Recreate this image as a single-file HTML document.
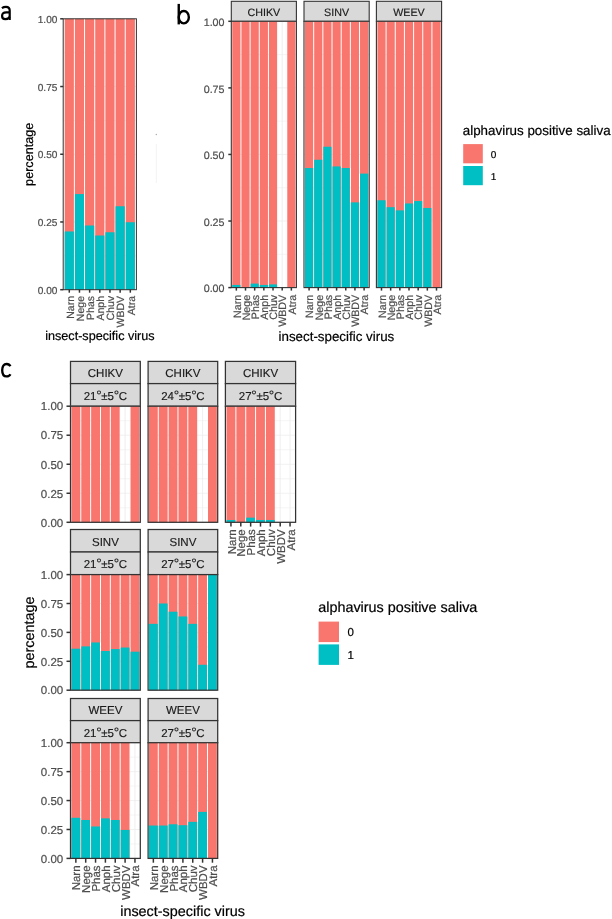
<!DOCTYPE html>
<html><head><meta charset="utf-8"><style>
html,body{margin:0;padding:0;background:#fff;}
body{width:612px;height:919px;overflow:hidden;}
svg{display:block;will-change:transform;}
text{font-family:"Liberation Sans", sans-serif;text-rendering:geometricPrecision;}
</style></head><body>
<svg width="612" height="919" viewBox="0 0 612 919" font-family="Liberation Sans">
<g>
<rect width="612" height="919" fill="#fff"/>
<rect x="63.2" y="18.8" width="73.20" height="270.90" fill="#fff"/>
<line x1="63.2" x2="136.4" y1="255.84" y2="255.84" stroke="#EBEBEB" stroke-width="0.5"/>
<line x1="63.2" x2="136.4" y1="188.11" y2="188.11" stroke="#EBEBEB" stroke-width="0.5"/>
<line x1="63.2" x2="136.4" y1="120.39" y2="120.39" stroke="#EBEBEB" stroke-width="0.5"/>
<line x1="63.2" x2="136.4" y1="52.66" y2="52.66" stroke="#EBEBEB" stroke-width="0.5"/>
<line x1="63.2" x2="136.4" y1="289.70" y2="289.70" stroke="#EBEBEB" stroke-width="0.7"/>
<line x1="63.2" x2="136.4" y1="221.97" y2="221.97" stroke="#EBEBEB" stroke-width="0.7"/>
<line x1="63.2" x2="136.4" y1="154.25" y2="154.25" stroke="#EBEBEB" stroke-width="0.7"/>
<line x1="63.2" x2="136.4" y1="86.53" y2="86.53" stroke="#EBEBEB" stroke-width="0.7"/>
<line x1="63.2" x2="136.4" y1="18.80" y2="18.80" stroke="#EBEBEB" stroke-width="0.7"/>
<line x1="69.29" x2="69.29" y1="18.8" y2="289.7" stroke="#EBEBEB" stroke-width="0.8"/>
<line x1="79.46" x2="79.46" y1="18.8" y2="289.7" stroke="#EBEBEB" stroke-width="0.8"/>
<line x1="89.63" x2="89.63" y1="18.8" y2="289.7" stroke="#EBEBEB" stroke-width="0.8"/>
<line x1="99.80" x2="99.80" y1="18.8" y2="289.7" stroke="#EBEBEB" stroke-width="0.8"/>
<line x1="109.97" x2="109.97" y1="18.8" y2="289.7" stroke="#EBEBEB" stroke-width="0.8"/>
<line x1="120.14" x2="120.14" y1="18.8" y2="289.7" stroke="#EBEBEB" stroke-width="0.8"/>
<line x1="130.31" x2="130.31" y1="18.8" y2="289.7" stroke="#EBEBEB" stroke-width="0.8"/>
<rect x="64.71" y="18.8" width="9.17" height="270.90" fill="#F8766D"/>
<rect x="64.71" y="231.46" width="9.17" height="58.24" fill="#00BFC4"/>
<rect x="74.88" y="18.8" width="9.17" height="270.90" fill="#F8766D"/>
<rect x="74.88" y="194.07" width="9.17" height="95.63" fill="#00BFC4"/>
<rect x="85.05" y="18.8" width="9.17" height="270.90" fill="#F8766D"/>
<rect x="85.05" y="225.50" width="9.17" height="64.20" fill="#00BFC4"/>
<rect x="95.22" y="18.8" width="9.17" height="270.90" fill="#F8766D"/>
<rect x="95.22" y="235.52" width="9.17" height="54.18" fill="#00BFC4"/>
<rect x="105.39" y="18.8" width="9.17" height="270.90" fill="#F8766D"/>
<rect x="105.39" y="232.27" width="9.17" height="57.43" fill="#00BFC4"/>
<rect x="115.56" y="18.8" width="9.17" height="270.90" fill="#F8766D"/>
<rect x="115.56" y="206.26" width="9.17" height="83.44" fill="#00BFC4"/>
<rect x="125.73" y="18.8" width="9.17" height="270.90" fill="#F8766D"/>
<rect x="125.73" y="222.25" width="9.17" height="67.45" fill="#00BFC4"/>
<rect x="63.2" y="18.8" width="73.20" height="270.90" fill="none" stroke="#333333" stroke-width="1.0"/>
<line x1="60.20" x2="63.2" y1="18.80" y2="18.80" stroke="#333333" stroke-width="1.5"/>
<text x="57.40" y="22.97" font-size="10.10" fill="#4D4D4D" stroke="#4D4D4D" stroke-width="0.2" text-anchor="end">1.00</text>
<line x1="60.20" x2="63.2" y1="86.53" y2="86.53" stroke="#333333" stroke-width="1.5"/>
<text x="57.40" y="90.70" font-size="10.10" fill="#4D4D4D" stroke="#4D4D4D" stroke-width="0.2" text-anchor="end">0.75</text>
<line x1="60.20" x2="63.2" y1="154.25" y2="154.25" stroke="#333333" stroke-width="1.5"/>
<text x="57.40" y="158.42" font-size="10.10" fill="#4D4D4D" stroke="#4D4D4D" stroke-width="0.2" text-anchor="end">0.50</text>
<line x1="60.20" x2="63.2" y1="221.97" y2="221.97" stroke="#333333" stroke-width="1.5"/>
<text x="57.40" y="226.15" font-size="10.10" fill="#4D4D4D" stroke="#4D4D4D" stroke-width="0.2" text-anchor="end">0.25</text>
<line x1="60.20" x2="63.2" y1="289.70" y2="289.70" stroke="#333333" stroke-width="1.5"/>
<text x="57.40" y="293.87" font-size="10.10" fill="#4D4D4D" stroke="#4D4D4D" stroke-width="0.2" text-anchor="end">0.00</text>
<line x1="69.29" x2="69.29" y1="289.7" y2="292.70" stroke="#333333" stroke-width="1.5"/>
<text x="73.50" y="296.00" font-size="10.50" fill="#4D4D4D" stroke="#4D4D4D" stroke-width="0.2" text-anchor="end" transform="rotate(-90 73.50200000000001 296.0)">Narn</text>
<line x1="79.46" x2="79.46" y1="289.7" y2="292.70" stroke="#333333" stroke-width="1.5"/>
<text x="83.67" y="296.00" font-size="10.50" fill="#4D4D4D" stroke="#4D4D4D" stroke-width="0.2" text-anchor="end" transform="rotate(-90 83.672 296.0)">Nege</text>
<line x1="89.63" x2="89.63" y1="289.7" y2="292.70" stroke="#333333" stroke-width="1.5"/>
<text x="93.84" y="296.00" font-size="10.50" fill="#4D4D4D" stroke="#4D4D4D" stroke-width="0.2" text-anchor="end" transform="rotate(-90 93.842 296.0)">Phas</text>
<line x1="99.80" x2="99.80" y1="289.7" y2="292.70" stroke="#333333" stroke-width="1.5"/>
<text x="104.01" y="296.00" font-size="10.50" fill="#4D4D4D" stroke="#4D4D4D" stroke-width="0.2" text-anchor="end" transform="rotate(-90 104.012 296.0)">Anph</text>
<line x1="109.97" x2="109.97" y1="289.7" y2="292.70" stroke="#333333" stroke-width="1.5"/>
<text x="114.18" y="296.00" font-size="10.50" fill="#4D4D4D" stroke="#4D4D4D" stroke-width="0.2" text-anchor="end" transform="rotate(-90 114.182 296.0)">Chuv</text>
<line x1="120.14" x2="120.14" y1="289.7" y2="292.70" stroke="#333333" stroke-width="1.5"/>
<text x="124.35" y="296.00" font-size="10.50" fill="#4D4D4D" stroke="#4D4D4D" stroke-width="0.2" text-anchor="end" transform="rotate(-90 124.352 296.0)">WBDV</text>
<line x1="130.31" x2="130.31" y1="289.7" y2="292.70" stroke="#333333" stroke-width="1.5"/>
<text x="134.52" y="296.00" font-size="10.50" fill="#4D4D4D" stroke="#4D4D4D" stroke-width="0.2" text-anchor="end" transform="rotate(-90 134.522 296.0)">Atra</text>
<text x="99.90" y="339.70" font-size="12.64" fill="#000" stroke="#000" stroke-width="0.2" text-anchor="middle">insect-specific virus</text>
<text x="32.55" y="154.30" font-size="12.64" fill="#000" stroke="#000" stroke-width="0.2" text-anchor="middle" transform="rotate(-90 32.548159999999996 154.3)">percentage</text>
<g fill="none" stroke="#000" stroke-width="2.2" stroke-linecap="butt"><path d="M 1.9 8.1 C 3.2 7.2, 4.6 6.9, 6.0 6.9 C 8.6 6.9, 9.7 8.0, 9.7 10.5 L 9.7 20.0"/><path d="M 9.7 12.3 L 6.3 12.3 C 3.4 12.3, 2.1 13.7, 2.1 15.9 C 2.1 17.9, 3.4 19.1, 5.3 19.1 C 7.2 19.1, 8.8 18.3, 9.7 16.9"/></g>
<rect x="231.3" y="1.3" width="65.10" height="20.00" fill="#D9D9D9" stroke="#333333" stroke-width="1.1"/>
<text x="263.85" y="15.68" font-size="10.70" fill="#1A1A1A" stroke="#1A1A1A" stroke-width="0.15" text-anchor="middle">CHIKV</text>
<rect x="231.3" y="21.3" width="65.10" height="266.30" fill="#fff"/>
<line x1="231.3" x2="296.4" y1="254.31" y2="254.31" stroke="#EBEBEB" stroke-width="0.5"/>
<line x1="231.3" x2="296.4" y1="187.74" y2="187.74" stroke="#EBEBEB" stroke-width="0.5"/>
<line x1="231.3" x2="296.4" y1="121.16" y2="121.16" stroke="#EBEBEB" stroke-width="0.5"/>
<line x1="231.3" x2="296.4" y1="54.59" y2="54.59" stroke="#EBEBEB" stroke-width="0.5"/>
<line x1="231.3" x2="296.4" y1="287.60" y2="287.60" stroke="#EBEBEB" stroke-width="0.7"/>
<line x1="231.3" x2="296.4" y1="221.03" y2="221.03" stroke="#EBEBEB" stroke-width="0.7"/>
<line x1="231.3" x2="296.4" y1="154.45" y2="154.45" stroke="#EBEBEB" stroke-width="0.7"/>
<line x1="231.3" x2="296.4" y1="87.88" y2="87.88" stroke="#EBEBEB" stroke-width="0.7"/>
<line x1="231.3" x2="296.4" y1="21.30" y2="21.30" stroke="#EBEBEB" stroke-width="0.7"/>
<line x1="236.34" x2="236.34" y1="21.3" y2="287.6" stroke="#EBEBEB" stroke-width="0.8"/>
<line x1="245.51" x2="245.51" y1="21.3" y2="287.6" stroke="#EBEBEB" stroke-width="0.8"/>
<line x1="254.68" x2="254.68" y1="21.3" y2="287.6" stroke="#EBEBEB" stroke-width="0.8"/>
<line x1="263.85" x2="263.85" y1="21.3" y2="287.6" stroke="#EBEBEB" stroke-width="0.8"/>
<line x1="273.02" x2="273.02" y1="21.3" y2="287.6" stroke="#EBEBEB" stroke-width="0.8"/>
<line x1="282.19" x2="282.19" y1="21.3" y2="287.6" stroke="#EBEBEB" stroke-width="0.8"/>
<line x1="291.36" x2="291.36" y1="21.3" y2="287.6" stroke="#EBEBEB" stroke-width="0.8"/>
<rect x="232.26" y="21.3" width="8.17" height="266.30" fill="#F8766D"/>
<rect x="232.26" y="284.94" width="8.17" height="2.66" fill="#00BFC4"/>
<rect x="241.43" y="21.3" width="8.17" height="266.30" fill="#F8766D"/>
<rect x="250.60" y="21.3" width="8.17" height="266.30" fill="#F8766D"/>
<rect x="250.60" y="283.61" width="8.17" height="3.99" fill="#00BFC4"/>
<rect x="259.77" y="21.3" width="8.17" height="266.30" fill="#F8766D"/>
<rect x="259.77" y="284.94" width="8.17" height="2.66" fill="#00BFC4"/>
<rect x="268.94" y="21.3" width="8.17" height="266.30" fill="#F8766D"/>
<rect x="268.94" y="284.40" width="8.17" height="3.20" fill="#00BFC4"/>
<rect x="287.28" y="21.3" width="8.17" height="266.30" fill="#F8766D"/>
<rect x="231.3" y="21.3" width="65.10" height="266.30" fill="none" stroke="#333333" stroke-width="1.1"/>
<line x1="236.34" x2="236.34" y1="287.6" y2="290.60" stroke="#333333" stroke-width="1.5"/>
<text x="240.62" y="294.80" font-size="10.70" fill="#4D4D4D" stroke="#4D4D4D" stroke-width="0.2" text-anchor="end" transform="rotate(-90 240.62080000000003 294.8)">Narn</text>
<line x1="245.51" x2="245.51" y1="287.6" y2="290.60" stroke="#333333" stroke-width="1.5"/>
<text x="249.79" y="294.80" font-size="10.70" fill="#4D4D4D" stroke="#4D4D4D" stroke-width="0.2" text-anchor="end" transform="rotate(-90 249.79080000000002 294.8)">Nege</text>
<line x1="254.68" x2="254.68" y1="287.6" y2="290.60" stroke="#333333" stroke-width="1.5"/>
<text x="258.96" y="294.80" font-size="10.70" fill="#4D4D4D" stroke="#4D4D4D" stroke-width="0.2" text-anchor="end" transform="rotate(-90 258.96080000000006 294.8)">Phas</text>
<line x1="263.85" x2="263.85" y1="287.6" y2="290.60" stroke="#333333" stroke-width="1.5"/>
<text x="268.13" y="294.80" font-size="10.70" fill="#4D4D4D" stroke="#4D4D4D" stroke-width="0.2" text-anchor="end" transform="rotate(-90 268.1308 294.8)">Anph</text>
<line x1="273.02" x2="273.02" y1="287.6" y2="290.60" stroke="#333333" stroke-width="1.5"/>
<text x="277.30" y="294.80" font-size="10.70" fill="#4D4D4D" stroke="#4D4D4D" stroke-width="0.2" text-anchor="end" transform="rotate(-90 277.30080000000004 294.8)">Chuv</text>
<line x1="282.19" x2="282.19" y1="287.6" y2="290.60" stroke="#333333" stroke-width="1.5"/>
<text x="286.47" y="294.80" font-size="10.70" fill="#4D4D4D" stroke="#4D4D4D" stroke-width="0.2" text-anchor="end" transform="rotate(-90 286.4708 294.8)">WBDV</text>
<line x1="291.36" x2="291.36" y1="287.6" y2="290.60" stroke="#333333" stroke-width="1.5"/>
<text x="295.64" y="294.80" font-size="10.70" fill="#4D4D4D" stroke="#4D4D4D" stroke-width="0.2" text-anchor="end" transform="rotate(-90 295.6408 294.8)">Atra</text>
<rect x="304.0" y="1.3" width="65.20" height="20.00" fill="#D9D9D9" stroke="#333333" stroke-width="1.1"/>
<text x="336.60" y="15.68" font-size="10.70" fill="#1A1A1A" stroke="#1A1A1A" stroke-width="0.15" text-anchor="middle">SINV</text>
<rect x="304.0" y="21.3" width="65.20" height="266.30" fill="#fff"/>
<line x1="304.0" x2="369.2" y1="254.31" y2="254.31" stroke="#EBEBEB" stroke-width="0.5"/>
<line x1="304.0" x2="369.2" y1="187.74" y2="187.74" stroke="#EBEBEB" stroke-width="0.5"/>
<line x1="304.0" x2="369.2" y1="121.16" y2="121.16" stroke="#EBEBEB" stroke-width="0.5"/>
<line x1="304.0" x2="369.2" y1="54.59" y2="54.59" stroke="#EBEBEB" stroke-width="0.5"/>
<line x1="304.0" x2="369.2" y1="287.60" y2="287.60" stroke="#EBEBEB" stroke-width="0.7"/>
<line x1="304.0" x2="369.2" y1="221.03" y2="221.03" stroke="#EBEBEB" stroke-width="0.7"/>
<line x1="304.0" x2="369.2" y1="154.45" y2="154.45" stroke="#EBEBEB" stroke-width="0.7"/>
<line x1="304.0" x2="369.2" y1="87.88" y2="87.88" stroke="#EBEBEB" stroke-width="0.7"/>
<line x1="304.0" x2="369.2" y1="21.30" y2="21.30" stroke="#EBEBEB" stroke-width="0.7"/>
<line x1="309.09" x2="309.09" y1="21.3" y2="287.6" stroke="#EBEBEB" stroke-width="0.8"/>
<line x1="318.26" x2="318.26" y1="21.3" y2="287.6" stroke="#EBEBEB" stroke-width="0.8"/>
<line x1="327.43" x2="327.43" y1="21.3" y2="287.6" stroke="#EBEBEB" stroke-width="0.8"/>
<line x1="336.60" x2="336.60" y1="21.3" y2="287.6" stroke="#EBEBEB" stroke-width="0.8"/>
<line x1="345.77" x2="345.77" y1="21.3" y2="287.6" stroke="#EBEBEB" stroke-width="0.8"/>
<line x1="354.94" x2="354.94" y1="21.3" y2="287.6" stroke="#EBEBEB" stroke-width="0.8"/>
<line x1="364.11" x2="364.11" y1="21.3" y2="287.6" stroke="#EBEBEB" stroke-width="0.8"/>
<rect x="305.01" y="21.3" width="8.17" height="266.30" fill="#F8766D"/>
<rect x="305.01" y="168.03" width="8.17" height="119.57" fill="#00BFC4"/>
<rect x="314.18" y="21.3" width="8.17" height="266.30" fill="#F8766D"/>
<rect x="314.18" y="159.78" width="8.17" height="127.82" fill="#00BFC4"/>
<rect x="323.35" y="21.3" width="8.17" height="266.30" fill="#F8766D"/>
<rect x="323.35" y="146.73" width="8.17" height="140.87" fill="#00BFC4"/>
<rect x="332.52" y="21.3" width="8.17" height="266.30" fill="#F8766D"/>
<rect x="332.52" y="166.43" width="8.17" height="121.17" fill="#00BFC4"/>
<rect x="341.69" y="21.3" width="8.17" height="266.30" fill="#F8766D"/>
<rect x="341.69" y="168.03" width="8.17" height="119.57" fill="#00BFC4"/>
<rect x="350.86" y="21.3" width="8.17" height="266.30" fill="#F8766D"/>
<rect x="350.86" y="202.38" width="8.17" height="85.22" fill="#00BFC4"/>
<rect x="360.03" y="21.3" width="8.17" height="266.30" fill="#F8766D"/>
<rect x="360.03" y="173.62" width="8.17" height="113.98" fill="#00BFC4"/>
<rect x="304.0" y="21.3" width="65.20" height="266.30" fill="none" stroke="#333333" stroke-width="1.1"/>
<line x1="309.09" x2="309.09" y1="287.6" y2="290.60" stroke="#333333" stroke-width="1.5"/>
<text x="313.37" y="294.80" font-size="10.70" fill="#4D4D4D" stroke="#4D4D4D" stroke-width="0.2" text-anchor="end" transform="rotate(-90 313.37080000000003 294.8)">Narn</text>
<line x1="318.26" x2="318.26" y1="287.6" y2="290.60" stroke="#333333" stroke-width="1.5"/>
<text x="322.54" y="294.80" font-size="10.70" fill="#4D4D4D" stroke="#4D4D4D" stroke-width="0.2" text-anchor="end" transform="rotate(-90 322.54080000000005 294.8)">Nege</text>
<line x1="327.43" x2="327.43" y1="287.6" y2="290.60" stroke="#333333" stroke-width="1.5"/>
<text x="331.71" y="294.80" font-size="10.70" fill="#4D4D4D" stroke="#4D4D4D" stroke-width="0.2" text-anchor="end" transform="rotate(-90 331.7108 294.8)">Phas</text>
<line x1="336.60" x2="336.60" y1="287.6" y2="290.60" stroke="#333333" stroke-width="1.5"/>
<text x="340.88" y="294.80" font-size="10.70" fill="#4D4D4D" stroke="#4D4D4D" stroke-width="0.2" text-anchor="end" transform="rotate(-90 340.8808 294.8)">Anph</text>
<line x1="345.77" x2="345.77" y1="287.6" y2="290.60" stroke="#333333" stroke-width="1.5"/>
<text x="350.05" y="294.80" font-size="10.70" fill="#4D4D4D" stroke="#4D4D4D" stroke-width="0.2" text-anchor="end" transform="rotate(-90 350.05080000000004 294.8)">Chuv</text>
<line x1="354.94" x2="354.94" y1="287.6" y2="290.60" stroke="#333333" stroke-width="1.5"/>
<text x="359.22" y="294.80" font-size="10.70" fill="#4D4D4D" stroke="#4D4D4D" stroke-width="0.2" text-anchor="end" transform="rotate(-90 359.2208 294.8)">WBDV</text>
<line x1="364.11" x2="364.11" y1="287.6" y2="290.60" stroke="#333333" stroke-width="1.5"/>
<text x="368.39" y="294.80" font-size="10.70" fill="#4D4D4D" stroke="#4D4D4D" stroke-width="0.2" text-anchor="end" transform="rotate(-90 368.3908 294.8)">Atra</text>
<rect x="376.4" y="1.3" width="65.20" height="20.00" fill="#D9D9D9" stroke="#333333" stroke-width="1.1"/>
<text x="409.00" y="15.68" font-size="10.70" fill="#1A1A1A" stroke="#1A1A1A" stroke-width="0.15" text-anchor="middle">WEEV</text>
<rect x="376.4" y="21.3" width="65.20" height="266.30" fill="#fff"/>
<line x1="376.4" x2="441.6" y1="254.31" y2="254.31" stroke="#EBEBEB" stroke-width="0.5"/>
<line x1="376.4" x2="441.6" y1="187.74" y2="187.74" stroke="#EBEBEB" stroke-width="0.5"/>
<line x1="376.4" x2="441.6" y1="121.16" y2="121.16" stroke="#EBEBEB" stroke-width="0.5"/>
<line x1="376.4" x2="441.6" y1="54.59" y2="54.59" stroke="#EBEBEB" stroke-width="0.5"/>
<line x1="376.4" x2="441.6" y1="287.60" y2="287.60" stroke="#EBEBEB" stroke-width="0.7"/>
<line x1="376.4" x2="441.6" y1="221.03" y2="221.03" stroke="#EBEBEB" stroke-width="0.7"/>
<line x1="376.4" x2="441.6" y1="154.45" y2="154.45" stroke="#EBEBEB" stroke-width="0.7"/>
<line x1="376.4" x2="441.6" y1="87.88" y2="87.88" stroke="#EBEBEB" stroke-width="0.7"/>
<line x1="376.4" x2="441.6" y1="21.30" y2="21.30" stroke="#EBEBEB" stroke-width="0.7"/>
<line x1="381.49" x2="381.49" y1="21.3" y2="287.6" stroke="#EBEBEB" stroke-width="0.8"/>
<line x1="390.66" x2="390.66" y1="21.3" y2="287.6" stroke="#EBEBEB" stroke-width="0.8"/>
<line x1="399.83" x2="399.83" y1="21.3" y2="287.6" stroke="#EBEBEB" stroke-width="0.8"/>
<line x1="409.00" x2="409.00" y1="21.3" y2="287.6" stroke="#EBEBEB" stroke-width="0.8"/>
<line x1="418.17" x2="418.17" y1="21.3" y2="287.6" stroke="#EBEBEB" stroke-width="0.8"/>
<line x1="427.34" x2="427.34" y1="21.3" y2="287.6" stroke="#EBEBEB" stroke-width="0.8"/>
<line x1="436.51" x2="436.51" y1="21.3" y2="287.6" stroke="#EBEBEB" stroke-width="0.8"/>
<rect x="377.41" y="21.3" width="8.17" height="266.30" fill="#F8766D"/>
<rect x="377.41" y="200.25" width="8.17" height="87.35" fill="#00BFC4"/>
<rect x="386.58" y="21.3" width="8.17" height="266.30" fill="#F8766D"/>
<rect x="386.58" y="207.18" width="8.17" height="80.42" fill="#00BFC4"/>
<rect x="395.75" y="21.3" width="8.17" height="266.30" fill="#F8766D"/>
<rect x="395.75" y="210.37" width="8.17" height="77.23" fill="#00BFC4"/>
<rect x="404.92" y="21.3" width="8.17" height="266.30" fill="#F8766D"/>
<rect x="404.92" y="203.45" width="8.17" height="84.15" fill="#00BFC4"/>
<rect x="414.09" y="21.3" width="8.17" height="266.30" fill="#F8766D"/>
<rect x="414.09" y="201.05" width="8.17" height="86.55" fill="#00BFC4"/>
<rect x="423.25" y="21.3" width="8.17" height="266.30" fill="#F8766D"/>
<rect x="423.25" y="207.98" width="8.17" height="79.62" fill="#00BFC4"/>
<rect x="432.43" y="21.3" width="8.17" height="266.30" fill="#F8766D"/>
<rect x="376.4" y="21.3" width="65.20" height="266.30" fill="none" stroke="#333333" stroke-width="1.1"/>
<line x1="381.49" x2="381.49" y1="287.6" y2="290.60" stroke="#333333" stroke-width="1.5"/>
<text x="385.77" y="294.80" font-size="10.70" fill="#4D4D4D" stroke="#4D4D4D" stroke-width="0.2" text-anchor="end" transform="rotate(-90 385.7708 294.8)">Narn</text>
<line x1="390.66" x2="390.66" y1="287.6" y2="290.60" stroke="#333333" stroke-width="1.5"/>
<text x="394.94" y="294.80" font-size="10.70" fill="#4D4D4D" stroke="#4D4D4D" stroke-width="0.2" text-anchor="end" transform="rotate(-90 394.9408 294.8)">Nege</text>
<line x1="399.83" x2="399.83" y1="287.6" y2="290.60" stroke="#333333" stroke-width="1.5"/>
<text x="404.11" y="294.80" font-size="10.70" fill="#4D4D4D" stroke="#4D4D4D" stroke-width="0.2" text-anchor="end" transform="rotate(-90 404.1108 294.8)">Phas</text>
<line x1="409.00" x2="409.00" y1="287.6" y2="290.60" stroke="#333333" stroke-width="1.5"/>
<text x="413.28" y="294.80" font-size="10.70" fill="#4D4D4D" stroke="#4D4D4D" stroke-width="0.2" text-anchor="end" transform="rotate(-90 413.2808 294.8)">Anph</text>
<line x1="418.17" x2="418.17" y1="287.6" y2="290.60" stroke="#333333" stroke-width="1.5"/>
<text x="422.45" y="294.80" font-size="10.70" fill="#4D4D4D" stroke="#4D4D4D" stroke-width="0.2" text-anchor="end" transform="rotate(-90 422.4508 294.8)">Chuv</text>
<line x1="427.34" x2="427.34" y1="287.6" y2="290.60" stroke="#333333" stroke-width="1.5"/>
<text x="431.62" y="294.80" font-size="10.70" fill="#4D4D4D" stroke="#4D4D4D" stroke-width="0.2" text-anchor="end" transform="rotate(-90 431.6208 294.8)">WBDV</text>
<line x1="436.51" x2="436.51" y1="287.6" y2="290.60" stroke="#333333" stroke-width="1.5"/>
<text x="440.79" y="294.80" font-size="10.70" fill="#4D4D4D" stroke="#4D4D4D" stroke-width="0.2" text-anchor="end" transform="rotate(-90 440.7908 294.8)">Atra</text>
<line x1="228.30" x2="231.3" y1="21.30" y2="21.30" stroke="#333333" stroke-width="1.5"/>
<text x="224.50" y="25.98" font-size="10.70" fill="#4D4D4D" stroke="#4D4D4D" stroke-width="0.2" text-anchor="end">1.00</text>
<line x1="228.30" x2="231.3" y1="87.88" y2="87.88" stroke="#333333" stroke-width="1.5"/>
<text x="224.50" y="92.56" font-size="10.70" fill="#4D4D4D" stroke="#4D4D4D" stroke-width="0.2" text-anchor="end">0.75</text>
<line x1="228.30" x2="231.3" y1="154.45" y2="154.45" stroke="#333333" stroke-width="1.5"/>
<text x="224.50" y="159.13" font-size="10.70" fill="#4D4D4D" stroke="#4D4D4D" stroke-width="0.2" text-anchor="end">0.50</text>
<line x1="228.30" x2="231.3" y1="221.03" y2="221.03" stroke="#333333" stroke-width="1.5"/>
<text x="224.50" y="225.71" font-size="10.70" fill="#4D4D4D" stroke="#4D4D4D" stroke-width="0.2" text-anchor="end">0.25</text>
<line x1="228.30" x2="231.3" y1="287.60" y2="287.60" stroke="#333333" stroke-width="1.5"/>
<text x="224.50" y="292.28" font-size="10.70" fill="#4D4D4D" stroke="#4D4D4D" stroke-width="0.2" text-anchor="end">0.00</text>
<text x="336.40" y="341.00" font-size="13.36" fill="#000" stroke="#000" stroke-width="0.2" text-anchor="middle">insect-specific virus</text>
<g fill="none" stroke="#000" stroke-width="2.4"><path d="M 178.75 3.9 L 178.75 24.4"/><ellipse cx="183.8" cy="17.15" rx="5.05" ry="6.2"/></g>
<text x="462.80" y="134.70" font-size="13.36" fill="#000" stroke="#000" stroke-width="0.2" text-anchor="start">alphavirus positive saliva</text>
<rect x="463.2" y="144.1" width="19.6" height="19.2" fill="#F8766D"/>
<rect x="463.2" y="166.0" width="19.6" height="19.2" fill="#00BFC4"/>
<text x="490.80" y="157.74" font-size="10.00" fill="#000" stroke="#000" stroke-width="0.2" text-anchor="start">0</text>
<text x="490.80" y="179.64" font-size="10.00" fill="#000" stroke="#000" stroke-width="0.2" text-anchor="start">1</text>
<rect x="70.5" y="361.4" width="69.80" height="22.20" fill="#D9D9D9" stroke="#333333" stroke-width="1.25"/>
<text x="105.40" y="377.36" font-size="11.50" fill="#1A1A1A" stroke="#1A1A1A" stroke-width="0.15" text-anchor="middle">CHIKV</text>
<rect x="70.5" y="383.6" width="69.80" height="22.60" fill="#D9D9D9" stroke="#333333" stroke-width="1.25"/>
<text x="105.40" y="399.76" font-size="11.50" fill="#1A1A1A" stroke="#1A1A1A" stroke-width="0.15" text-anchor="middle">21<tspan font-size="13.57" dx="-0.3" dy="0.3">°</tspan><tspan dx="-0.3" dy="-0.3">±5</tspan><tspan font-size="13.57" dx="-0.3" dy="0.3">°</tspan><tspan dx="-0.3" dy="-0.3">C</tspan></text>
<rect x="70.5" y="406.2" width="69.80" height="116.10" fill="#fff"/>
<line x1="70.5" x2="140.3" y1="507.79" y2="507.79" stroke="#EBEBEB" stroke-width="0.5"/>
<line x1="70.5" x2="140.3" y1="478.76" y2="478.76" stroke="#EBEBEB" stroke-width="0.5"/>
<line x1="70.5" x2="140.3" y1="449.74" y2="449.74" stroke="#EBEBEB" stroke-width="0.5"/>
<line x1="70.5" x2="140.3" y1="420.71" y2="420.71" stroke="#EBEBEB" stroke-width="0.5"/>
<line x1="70.5" x2="140.3" y1="522.30" y2="522.30" stroke="#EBEBEB" stroke-width="0.7"/>
<line x1="70.5" x2="140.3" y1="493.27" y2="493.27" stroke="#EBEBEB" stroke-width="0.7"/>
<line x1="70.5" x2="140.3" y1="464.25" y2="464.25" stroke="#EBEBEB" stroke-width="0.7"/>
<line x1="70.5" x2="140.3" y1="435.22" y2="435.22" stroke="#EBEBEB" stroke-width="0.7"/>
<line x1="70.5" x2="140.3" y1="406.20" y2="406.20" stroke="#EBEBEB" stroke-width="0.7"/>
<line x1="75.85" x2="75.85" y1="406.2" y2="522.3" stroke="#EBEBEB" stroke-width="0.8"/>
<line x1="85.70" x2="85.70" y1="406.2" y2="522.3" stroke="#EBEBEB" stroke-width="0.8"/>
<line x1="95.55" x2="95.55" y1="406.2" y2="522.3" stroke="#EBEBEB" stroke-width="0.8"/>
<line x1="105.40" x2="105.40" y1="406.2" y2="522.3" stroke="#EBEBEB" stroke-width="0.8"/>
<line x1="115.25" x2="115.25" y1="406.2" y2="522.3" stroke="#EBEBEB" stroke-width="0.8"/>
<line x1="125.10" x2="125.10" y1="406.2" y2="522.3" stroke="#EBEBEB" stroke-width="0.8"/>
<line x1="134.95" x2="134.95" y1="406.2" y2="522.3" stroke="#EBEBEB" stroke-width="0.8"/>
<rect x="71.43" y="406.2" width="8.85" height="116.10" fill="#F8766D"/>
<rect x="81.28" y="406.2" width="8.85" height="116.10" fill="#F8766D"/>
<rect x="91.13" y="406.2" width="8.85" height="116.10" fill="#F8766D"/>
<rect x="100.98" y="406.2" width="8.85" height="116.10" fill="#F8766D"/>
<rect x="110.83" y="406.2" width="8.85" height="116.10" fill="#F8766D"/>
<rect x="130.52" y="406.2" width="8.85" height="116.10" fill="#F8766D"/>
<rect x="70.5" y="406.2" width="69.80" height="116.10" fill="none" stroke="#333333" stroke-width="1.25"/>
<rect x="148.1" y="361.4" width="69.60" height="22.20" fill="#D9D9D9" stroke="#333333" stroke-width="1.25"/>
<text x="182.90" y="377.36" font-size="11.50" fill="#1A1A1A" stroke="#1A1A1A" stroke-width="0.15" text-anchor="middle">CHIKV</text>
<rect x="148.1" y="383.6" width="69.60" height="22.60" fill="#D9D9D9" stroke="#333333" stroke-width="1.25"/>
<text x="182.90" y="399.76" font-size="11.50" fill="#1A1A1A" stroke="#1A1A1A" stroke-width="0.15" text-anchor="middle">24<tspan font-size="13.57" dx="-0.3" dy="0.3">°</tspan><tspan dx="-0.3" dy="-0.3">±5</tspan><tspan font-size="13.57" dx="-0.3" dy="0.3">°</tspan><tspan dx="-0.3" dy="-0.3">C</tspan></text>
<rect x="148.1" y="406.2" width="69.60" height="116.10" fill="#fff"/>
<line x1="148.1" x2="217.7" y1="507.79" y2="507.79" stroke="#EBEBEB" stroke-width="0.5"/>
<line x1="148.1" x2="217.7" y1="478.76" y2="478.76" stroke="#EBEBEB" stroke-width="0.5"/>
<line x1="148.1" x2="217.7" y1="449.74" y2="449.74" stroke="#EBEBEB" stroke-width="0.5"/>
<line x1="148.1" x2="217.7" y1="420.71" y2="420.71" stroke="#EBEBEB" stroke-width="0.5"/>
<line x1="148.1" x2="217.7" y1="522.30" y2="522.30" stroke="#EBEBEB" stroke-width="0.7"/>
<line x1="148.1" x2="217.7" y1="493.27" y2="493.27" stroke="#EBEBEB" stroke-width="0.7"/>
<line x1="148.1" x2="217.7" y1="464.25" y2="464.25" stroke="#EBEBEB" stroke-width="0.7"/>
<line x1="148.1" x2="217.7" y1="435.22" y2="435.22" stroke="#EBEBEB" stroke-width="0.7"/>
<line x1="148.1" x2="217.7" y1="406.20" y2="406.20" stroke="#EBEBEB" stroke-width="0.7"/>
<line x1="153.35" x2="153.35" y1="406.2" y2="522.3" stroke="#EBEBEB" stroke-width="0.8"/>
<line x1="163.20" x2="163.20" y1="406.2" y2="522.3" stroke="#EBEBEB" stroke-width="0.8"/>
<line x1="173.05" x2="173.05" y1="406.2" y2="522.3" stroke="#EBEBEB" stroke-width="0.8"/>
<line x1="182.90" x2="182.90" y1="406.2" y2="522.3" stroke="#EBEBEB" stroke-width="0.8"/>
<line x1="192.75" x2="192.75" y1="406.2" y2="522.3" stroke="#EBEBEB" stroke-width="0.8"/>
<line x1="202.60" x2="202.60" y1="406.2" y2="522.3" stroke="#EBEBEB" stroke-width="0.8"/>
<line x1="212.45" x2="212.45" y1="406.2" y2="522.3" stroke="#EBEBEB" stroke-width="0.8"/>
<rect x="148.92" y="406.2" width="8.85" height="116.10" fill="#F8766D"/>
<rect x="158.77" y="406.2" width="8.85" height="116.10" fill="#F8766D"/>
<rect x="168.62" y="406.2" width="8.85" height="116.10" fill="#F8766D"/>
<rect x="178.47" y="406.2" width="8.85" height="116.10" fill="#F8766D"/>
<rect x="188.32" y="406.2" width="8.85" height="116.10" fill="#F8766D"/>
<rect x="208.02" y="406.2" width="8.85" height="116.10" fill="#F8766D"/>
<rect x="148.1" y="406.2" width="69.60" height="116.10" fill="none" stroke="#333333" stroke-width="1.25"/>
<rect x="225.4" y="361.4" width="70.20" height="22.20" fill="#D9D9D9" stroke="#333333" stroke-width="1.25"/>
<text x="260.50" y="377.36" font-size="11.50" fill="#1A1A1A" stroke="#1A1A1A" stroke-width="0.15" text-anchor="middle">CHIKV</text>
<rect x="225.4" y="383.6" width="70.20" height="22.60" fill="#D9D9D9" stroke="#333333" stroke-width="1.25"/>
<text x="260.50" y="399.76" font-size="11.50" fill="#1A1A1A" stroke="#1A1A1A" stroke-width="0.15" text-anchor="middle">27<tspan font-size="13.57" dx="-0.3" dy="0.3">°</tspan><tspan dx="-0.3" dy="-0.3">±5</tspan><tspan font-size="13.57" dx="-0.3" dy="0.3">°</tspan><tspan dx="-0.3" dy="-0.3">C</tspan></text>
<rect x="225.4" y="406.2" width="70.20" height="116.10" fill="#fff"/>
<line x1="225.4" x2="295.6" y1="507.79" y2="507.79" stroke="#EBEBEB" stroke-width="0.5"/>
<line x1="225.4" x2="295.6" y1="478.76" y2="478.76" stroke="#EBEBEB" stroke-width="0.5"/>
<line x1="225.4" x2="295.6" y1="449.74" y2="449.74" stroke="#EBEBEB" stroke-width="0.5"/>
<line x1="225.4" x2="295.6" y1="420.71" y2="420.71" stroke="#EBEBEB" stroke-width="0.5"/>
<line x1="225.4" x2="295.6" y1="522.30" y2="522.30" stroke="#EBEBEB" stroke-width="0.7"/>
<line x1="225.4" x2="295.6" y1="493.27" y2="493.27" stroke="#EBEBEB" stroke-width="0.7"/>
<line x1="225.4" x2="295.6" y1="464.25" y2="464.25" stroke="#EBEBEB" stroke-width="0.7"/>
<line x1="225.4" x2="295.6" y1="435.22" y2="435.22" stroke="#EBEBEB" stroke-width="0.7"/>
<line x1="225.4" x2="295.6" y1="406.20" y2="406.20" stroke="#EBEBEB" stroke-width="0.7"/>
<line x1="230.95" x2="230.95" y1="406.2" y2="522.3" stroke="#EBEBEB" stroke-width="0.8"/>
<line x1="240.80" x2="240.80" y1="406.2" y2="522.3" stroke="#EBEBEB" stroke-width="0.8"/>
<line x1="250.65" x2="250.65" y1="406.2" y2="522.3" stroke="#EBEBEB" stroke-width="0.8"/>
<line x1="260.50" x2="260.50" y1="406.2" y2="522.3" stroke="#EBEBEB" stroke-width="0.8"/>
<line x1="270.35" x2="270.35" y1="406.2" y2="522.3" stroke="#EBEBEB" stroke-width="0.8"/>
<line x1="280.20" x2="280.20" y1="406.2" y2="522.3" stroke="#EBEBEB" stroke-width="0.8"/>
<line x1="290.05" x2="290.05" y1="406.2" y2="522.3" stroke="#EBEBEB" stroke-width="0.8"/>
<rect x="226.52" y="406.2" width="8.85" height="116.10" fill="#F8766D"/>
<rect x="226.52" y="519.98" width="8.85" height="2.32" fill="#00BFC4"/>
<rect x="236.38" y="406.2" width="8.85" height="116.10" fill="#F8766D"/>
<rect x="246.22" y="406.2" width="8.85" height="116.10" fill="#F8766D"/>
<rect x="246.22" y="517.66" width="8.85" height="4.64" fill="#00BFC4"/>
<rect x="256.07" y="406.2" width="8.85" height="116.10" fill="#F8766D"/>
<rect x="256.07" y="519.98" width="8.85" height="2.32" fill="#00BFC4"/>
<rect x="265.93" y="406.2" width="8.85" height="116.10" fill="#F8766D"/>
<rect x="265.93" y="519.98" width="8.85" height="2.32" fill="#00BFC4"/>
<rect x="225.4" y="406.2" width="70.20" height="116.10" fill="none" stroke="#333333" stroke-width="1.25"/>
<line x1="230.95" x2="230.95" y1="522.3" y2="526.60" stroke="#333333" stroke-width="1.5"/>
<text x="235.51" y="529.30" font-size="11.50" fill="#4D4D4D" stroke="#4D4D4D" stroke-width="0.2" text-anchor="end" transform="rotate(-90 235.50599999999997 529.3)">Narn</text>
<line x1="240.80" x2="240.80" y1="522.3" y2="526.60" stroke="#333333" stroke-width="1.5"/>
<text x="245.36" y="529.30" font-size="11.50" fill="#4D4D4D" stroke="#4D4D4D" stroke-width="0.2" text-anchor="end" transform="rotate(-90 245.356 529.3)">Nege</text>
<line x1="250.65" x2="250.65" y1="522.3" y2="526.60" stroke="#333333" stroke-width="1.5"/>
<text x="255.21" y="529.30" font-size="11.50" fill="#4D4D4D" stroke="#4D4D4D" stroke-width="0.2" text-anchor="end" transform="rotate(-90 255.206 529.3)">Phas</text>
<line x1="260.50" x2="260.50" y1="522.3" y2="526.60" stroke="#333333" stroke-width="1.5"/>
<text x="265.06" y="529.30" font-size="11.50" fill="#4D4D4D" stroke="#4D4D4D" stroke-width="0.2" text-anchor="end" transform="rotate(-90 265.05600000000004 529.3)">Anph</text>
<line x1="270.35" x2="270.35" y1="522.3" y2="526.60" stroke="#333333" stroke-width="1.5"/>
<text x="274.91" y="529.30" font-size="11.50" fill="#4D4D4D" stroke="#4D4D4D" stroke-width="0.2" text-anchor="end" transform="rotate(-90 274.90600000000006 529.3)">Chuv</text>
<line x1="280.20" x2="280.20" y1="522.3" y2="526.60" stroke="#333333" stroke-width="1.5"/>
<text x="284.76" y="529.30" font-size="11.50" fill="#4D4D4D" stroke="#4D4D4D" stroke-width="0.2" text-anchor="end" transform="rotate(-90 284.75600000000003 529.3)">WBDV</text>
<line x1="290.05" x2="290.05" y1="522.3" y2="526.60" stroke="#333333" stroke-width="1.5"/>
<text x="294.61" y="529.30" font-size="11.50" fill="#4D4D4D" stroke="#4D4D4D" stroke-width="0.2" text-anchor="end" transform="rotate(-90 294.60600000000005 529.3)">Atra</text>
<line x1="66.50" x2="70.5" y1="406.20" y2="406.20" stroke="#333333" stroke-width="1.5"/>
<text x="63.20" y="410.46" font-size="11.50" fill="#4D4D4D" stroke="#4D4D4D" stroke-width="0.2" text-anchor="end">1.00</text>
<line x1="66.50" x2="70.5" y1="435.22" y2="435.22" stroke="#333333" stroke-width="1.5"/>
<text x="63.20" y="439.48" font-size="11.50" fill="#4D4D4D" stroke="#4D4D4D" stroke-width="0.2" text-anchor="end">0.75</text>
<line x1="66.50" x2="70.5" y1="464.25" y2="464.25" stroke="#333333" stroke-width="1.5"/>
<text x="63.20" y="468.51" font-size="11.50" fill="#4D4D4D" stroke="#4D4D4D" stroke-width="0.2" text-anchor="end">0.50</text>
<line x1="66.50" x2="70.5" y1="493.27" y2="493.27" stroke="#333333" stroke-width="1.5"/>
<text x="63.20" y="497.53" font-size="11.50" fill="#4D4D4D" stroke="#4D4D4D" stroke-width="0.2" text-anchor="end">0.25</text>
<line x1="66.50" x2="70.5" y1="522.30" y2="522.30" stroke="#333333" stroke-width="1.5"/>
<text x="63.20" y="526.56" font-size="11.50" fill="#4D4D4D" stroke="#4D4D4D" stroke-width="0.2" text-anchor="end">0.00</text>
<rect x="70.5" y="529.5" width="69.80" height="22.50" fill="#D9D9D9" stroke="#333333" stroke-width="1.25"/>
<text x="105.40" y="545.61" font-size="11.50" fill="#1A1A1A" stroke="#1A1A1A" stroke-width="0.15" text-anchor="middle">SINV</text>
<rect x="70.5" y="552.0" width="69.80" height="22.60" fill="#D9D9D9" stroke="#333333" stroke-width="1.25"/>
<text x="105.40" y="568.16" font-size="11.50" fill="#1A1A1A" stroke="#1A1A1A" stroke-width="0.15" text-anchor="middle">21<tspan font-size="13.57" dx="-0.3" dy="0.3">°</tspan><tspan dx="-0.3" dy="-0.3">±5</tspan><tspan font-size="13.57" dx="-0.3" dy="0.3">°</tspan><tspan dx="-0.3" dy="-0.3">C</tspan></text>
<rect x="70.5" y="574.6" width="69.80" height="115.60" fill="#fff"/>
<line x1="70.5" x2="140.3" y1="675.75" y2="675.75" stroke="#EBEBEB" stroke-width="0.5"/>
<line x1="70.5" x2="140.3" y1="646.85" y2="646.85" stroke="#EBEBEB" stroke-width="0.5"/>
<line x1="70.5" x2="140.3" y1="617.95" y2="617.95" stroke="#EBEBEB" stroke-width="0.5"/>
<line x1="70.5" x2="140.3" y1="589.05" y2="589.05" stroke="#EBEBEB" stroke-width="0.5"/>
<line x1="70.5" x2="140.3" y1="690.20" y2="690.20" stroke="#EBEBEB" stroke-width="0.7"/>
<line x1="70.5" x2="140.3" y1="661.30" y2="661.30" stroke="#EBEBEB" stroke-width="0.7"/>
<line x1="70.5" x2="140.3" y1="632.40" y2="632.40" stroke="#EBEBEB" stroke-width="0.7"/>
<line x1="70.5" x2="140.3" y1="603.50" y2="603.50" stroke="#EBEBEB" stroke-width="0.7"/>
<line x1="70.5" x2="140.3" y1="574.60" y2="574.60" stroke="#EBEBEB" stroke-width="0.7"/>
<line x1="75.85" x2="75.85" y1="574.6" y2="690.2" stroke="#EBEBEB" stroke-width="0.8"/>
<line x1="85.70" x2="85.70" y1="574.6" y2="690.2" stroke="#EBEBEB" stroke-width="0.8"/>
<line x1="95.55" x2="95.55" y1="574.6" y2="690.2" stroke="#EBEBEB" stroke-width="0.8"/>
<line x1="105.40" x2="105.40" y1="574.6" y2="690.2" stroke="#EBEBEB" stroke-width="0.8"/>
<line x1="115.25" x2="115.25" y1="574.6" y2="690.2" stroke="#EBEBEB" stroke-width="0.8"/>
<line x1="125.10" x2="125.10" y1="574.6" y2="690.2" stroke="#EBEBEB" stroke-width="0.8"/>
<line x1="134.95" x2="134.95" y1="574.6" y2="690.2" stroke="#EBEBEB" stroke-width="0.8"/>
<rect x="71.43" y="574.6" width="8.85" height="115.60" fill="#F8766D"/>
<rect x="71.43" y="648.70" width="8.85" height="41.50" fill="#00BFC4"/>
<rect x="81.28" y="574.6" width="8.85" height="115.60" fill="#F8766D"/>
<rect x="81.28" y="646.39" width="8.85" height="43.81" fill="#00BFC4"/>
<rect x="91.13" y="574.6" width="8.85" height="115.60" fill="#F8766D"/>
<rect x="91.13" y="642.46" width="8.85" height="47.74" fill="#00BFC4"/>
<rect x="100.98" y="574.6" width="8.85" height="115.60" fill="#F8766D"/>
<rect x="100.98" y="651.01" width="8.85" height="39.19" fill="#00BFC4"/>
<rect x="110.83" y="574.6" width="8.85" height="115.60" fill="#F8766D"/>
<rect x="110.83" y="649.05" width="8.85" height="41.15" fill="#00BFC4"/>
<rect x="120.68" y="574.6" width="8.85" height="115.60" fill="#F8766D"/>
<rect x="120.68" y="647.54" width="8.85" height="42.66" fill="#00BFC4"/>
<rect x="130.52" y="574.6" width="8.85" height="115.60" fill="#F8766D"/>
<rect x="130.52" y="651.71" width="8.85" height="38.49" fill="#00BFC4"/>
<rect x="70.5" y="574.6" width="69.80" height="115.60" fill="none" stroke="#333333" stroke-width="1.25"/>
<rect x="148.1" y="529.5" width="69.60" height="22.50" fill="#D9D9D9" stroke="#333333" stroke-width="1.25"/>
<text x="182.90" y="545.61" font-size="11.50" fill="#1A1A1A" stroke="#1A1A1A" stroke-width="0.15" text-anchor="middle">SINV</text>
<rect x="148.1" y="552.0" width="69.60" height="22.60" fill="#D9D9D9" stroke="#333333" stroke-width="1.25"/>
<text x="182.90" y="568.16" font-size="11.50" fill="#1A1A1A" stroke="#1A1A1A" stroke-width="0.15" text-anchor="middle">27<tspan font-size="13.57" dx="-0.3" dy="0.3">°</tspan><tspan dx="-0.3" dy="-0.3">±5</tspan><tspan font-size="13.57" dx="-0.3" dy="0.3">°</tspan><tspan dx="-0.3" dy="-0.3">C</tspan></text>
<rect x="148.1" y="574.6" width="69.60" height="115.60" fill="#fff"/>
<line x1="148.1" x2="217.7" y1="675.75" y2="675.75" stroke="#EBEBEB" stroke-width="0.5"/>
<line x1="148.1" x2="217.7" y1="646.85" y2="646.85" stroke="#EBEBEB" stroke-width="0.5"/>
<line x1="148.1" x2="217.7" y1="617.95" y2="617.95" stroke="#EBEBEB" stroke-width="0.5"/>
<line x1="148.1" x2="217.7" y1="589.05" y2="589.05" stroke="#EBEBEB" stroke-width="0.5"/>
<line x1="148.1" x2="217.7" y1="690.20" y2="690.20" stroke="#EBEBEB" stroke-width="0.7"/>
<line x1="148.1" x2="217.7" y1="661.30" y2="661.30" stroke="#EBEBEB" stroke-width="0.7"/>
<line x1="148.1" x2="217.7" y1="632.40" y2="632.40" stroke="#EBEBEB" stroke-width="0.7"/>
<line x1="148.1" x2="217.7" y1="603.50" y2="603.50" stroke="#EBEBEB" stroke-width="0.7"/>
<line x1="148.1" x2="217.7" y1="574.60" y2="574.60" stroke="#EBEBEB" stroke-width="0.7"/>
<line x1="153.35" x2="153.35" y1="574.6" y2="690.2" stroke="#EBEBEB" stroke-width="0.8"/>
<line x1="163.20" x2="163.20" y1="574.6" y2="690.2" stroke="#EBEBEB" stroke-width="0.8"/>
<line x1="173.05" x2="173.05" y1="574.6" y2="690.2" stroke="#EBEBEB" stroke-width="0.8"/>
<line x1="182.90" x2="182.90" y1="574.6" y2="690.2" stroke="#EBEBEB" stroke-width="0.8"/>
<line x1="192.75" x2="192.75" y1="574.6" y2="690.2" stroke="#EBEBEB" stroke-width="0.8"/>
<line x1="202.60" x2="202.60" y1="574.6" y2="690.2" stroke="#EBEBEB" stroke-width="0.8"/>
<line x1="212.45" x2="212.45" y1="574.6" y2="690.2" stroke="#EBEBEB" stroke-width="0.8"/>
<rect x="148.92" y="574.6" width="8.85" height="115.60" fill="#F8766D"/>
<rect x="148.92" y="623.85" width="8.85" height="66.35" fill="#00BFC4"/>
<rect x="158.77" y="574.6" width="8.85" height="115.60" fill="#F8766D"/>
<rect x="158.77" y="603.50" width="8.85" height="86.70" fill="#00BFC4"/>
<rect x="168.62" y="574.6" width="8.85" height="115.60" fill="#F8766D"/>
<rect x="168.62" y="611.71" width="8.85" height="78.49" fill="#00BFC4"/>
<rect x="178.47" y="574.6" width="8.85" height="115.60" fill="#F8766D"/>
<rect x="178.47" y="616.45" width="8.85" height="73.75" fill="#00BFC4"/>
<rect x="188.32" y="574.6" width="8.85" height="115.60" fill="#F8766D"/>
<rect x="188.32" y="623.85" width="8.85" height="66.35" fill="#00BFC4"/>
<rect x="198.17" y="574.6" width="8.85" height="115.60" fill="#F8766D"/>
<rect x="198.17" y="664.77" width="8.85" height="25.43" fill="#00BFC4"/>
<rect x="208.02" y="574.6" width="8.85" height="115.60" fill="#F8766D"/>
<rect x="208.02" y="574.60" width="8.85" height="115.60" fill="#00BFC4"/>
<rect x="148.1" y="574.6" width="69.60" height="115.60" fill="none" stroke="#333333" stroke-width="1.25"/>
<line x1="66.50" x2="70.5" y1="574.60" y2="574.60" stroke="#333333" stroke-width="1.5"/>
<text x="63.20" y="578.86" font-size="11.50" fill="#4D4D4D" stroke="#4D4D4D" stroke-width="0.2" text-anchor="end">1.00</text>
<line x1="66.50" x2="70.5" y1="603.50" y2="603.50" stroke="#333333" stroke-width="1.5"/>
<text x="63.20" y="607.76" font-size="11.50" fill="#4D4D4D" stroke="#4D4D4D" stroke-width="0.2" text-anchor="end">0.75</text>
<line x1="66.50" x2="70.5" y1="632.40" y2="632.40" stroke="#333333" stroke-width="1.5"/>
<text x="63.20" y="636.66" font-size="11.50" fill="#4D4D4D" stroke="#4D4D4D" stroke-width="0.2" text-anchor="end">0.50</text>
<line x1="66.50" x2="70.5" y1="661.30" y2="661.30" stroke="#333333" stroke-width="1.5"/>
<text x="63.20" y="665.56" font-size="11.50" fill="#4D4D4D" stroke="#4D4D4D" stroke-width="0.2" text-anchor="end">0.25</text>
<line x1="66.50" x2="70.5" y1="690.20" y2="690.20" stroke="#333333" stroke-width="1.5"/>
<text x="63.20" y="694.46" font-size="11.50" fill="#4D4D4D" stroke="#4D4D4D" stroke-width="0.2" text-anchor="end">0.00</text>
<rect x="70.5" y="698.5" width="69.80" height="22.10" fill="#D9D9D9" stroke="#333333" stroke-width="1.25"/>
<text x="105.40" y="714.41" font-size="11.50" fill="#1A1A1A" stroke="#1A1A1A" stroke-width="0.15" text-anchor="middle">WEEV</text>
<rect x="70.5" y="720.6" width="69.80" height="22.10" fill="#D9D9D9" stroke="#333333" stroke-width="1.25"/>
<text x="105.40" y="736.51" font-size="11.50" fill="#1A1A1A" stroke="#1A1A1A" stroke-width="0.15" text-anchor="middle">21<tspan font-size="13.57" dx="-0.3" dy="0.3">°</tspan><tspan dx="-0.3" dy="-0.3">±5</tspan><tspan font-size="13.57" dx="-0.3" dy="0.3">°</tspan><tspan dx="-0.3" dy="-0.3">C</tspan></text>
<rect x="70.5" y="742.7" width="69.80" height="115.70" fill="#fff"/>
<line x1="70.5" x2="140.3" y1="843.94" y2="843.94" stroke="#EBEBEB" stroke-width="0.5"/>
<line x1="70.5" x2="140.3" y1="815.01" y2="815.01" stroke="#EBEBEB" stroke-width="0.5"/>
<line x1="70.5" x2="140.3" y1="786.09" y2="786.09" stroke="#EBEBEB" stroke-width="0.5"/>
<line x1="70.5" x2="140.3" y1="757.16" y2="757.16" stroke="#EBEBEB" stroke-width="0.5"/>
<line x1="70.5" x2="140.3" y1="858.40" y2="858.40" stroke="#EBEBEB" stroke-width="0.7"/>
<line x1="70.5" x2="140.3" y1="829.48" y2="829.48" stroke="#EBEBEB" stroke-width="0.7"/>
<line x1="70.5" x2="140.3" y1="800.55" y2="800.55" stroke="#EBEBEB" stroke-width="0.7"/>
<line x1="70.5" x2="140.3" y1="771.62" y2="771.62" stroke="#EBEBEB" stroke-width="0.7"/>
<line x1="70.5" x2="140.3" y1="742.70" y2="742.70" stroke="#EBEBEB" stroke-width="0.7"/>
<line x1="75.85" x2="75.85" y1="742.7" y2="858.4" stroke="#EBEBEB" stroke-width="0.8"/>
<line x1="85.70" x2="85.70" y1="742.7" y2="858.4" stroke="#EBEBEB" stroke-width="0.8"/>
<line x1="95.55" x2="95.55" y1="742.7" y2="858.4" stroke="#EBEBEB" stroke-width="0.8"/>
<line x1="105.40" x2="105.40" y1="742.7" y2="858.4" stroke="#EBEBEB" stroke-width="0.8"/>
<line x1="115.25" x2="115.25" y1="742.7" y2="858.4" stroke="#EBEBEB" stroke-width="0.8"/>
<line x1="125.10" x2="125.10" y1="742.7" y2="858.4" stroke="#EBEBEB" stroke-width="0.8"/>
<line x1="134.95" x2="134.95" y1="742.7" y2="858.4" stroke="#EBEBEB" stroke-width="0.8"/>
<rect x="71.43" y="742.7" width="8.85" height="115.70" fill="#F8766D"/>
<rect x="71.43" y="817.79" width="8.85" height="40.61" fill="#00BFC4"/>
<rect x="81.28" y="742.7" width="8.85" height="115.70" fill="#F8766D"/>
<rect x="81.28" y="819.99" width="8.85" height="38.41" fill="#00BFC4"/>
<rect x="91.13" y="742.7" width="8.85" height="115.70" fill="#F8766D"/>
<rect x="91.13" y="826.47" width="8.85" height="31.93" fill="#00BFC4"/>
<rect x="100.98" y="742.7" width="8.85" height="115.70" fill="#F8766D"/>
<rect x="100.98" y="818.37" width="8.85" height="40.03" fill="#00BFC4"/>
<rect x="110.83" y="742.7" width="8.85" height="115.70" fill="#F8766D"/>
<rect x="110.83" y="819.99" width="8.85" height="38.41" fill="#00BFC4"/>
<rect x="120.68" y="742.7" width="8.85" height="115.70" fill="#F8766D"/>
<rect x="120.68" y="829.94" width="8.85" height="28.46" fill="#00BFC4"/>
<rect x="70.5" y="742.7" width="69.80" height="115.70" fill="none" stroke="#333333" stroke-width="1.25"/>
<line x1="75.85" x2="75.85" y1="858.4" y2="862.70" stroke="#333333" stroke-width="1.5"/>
<text x="80.41" y="865.40" font-size="11.50" fill="#4D4D4D" stroke="#4D4D4D" stroke-width="0.2" text-anchor="end" transform="rotate(-90 80.406 865.4)">Narn</text>
<line x1="85.70" x2="85.70" y1="858.4" y2="862.70" stroke="#333333" stroke-width="1.5"/>
<text x="90.26" y="865.40" font-size="11.50" fill="#4D4D4D" stroke="#4D4D4D" stroke-width="0.2" text-anchor="end" transform="rotate(-90 90.256 865.4)">Nege</text>
<line x1="95.55" x2="95.55" y1="858.4" y2="862.70" stroke="#333333" stroke-width="1.5"/>
<text x="100.11" y="865.40" font-size="11.50" fill="#4D4D4D" stroke="#4D4D4D" stroke-width="0.2" text-anchor="end" transform="rotate(-90 100.10600000000001 865.4)">Phas</text>
<line x1="105.40" x2="105.40" y1="858.4" y2="862.70" stroke="#333333" stroke-width="1.5"/>
<text x="109.96" y="865.40" font-size="11.50" fill="#4D4D4D" stroke="#4D4D4D" stroke-width="0.2" text-anchor="end" transform="rotate(-90 109.956 865.4)">Anph</text>
<line x1="115.25" x2="115.25" y1="858.4" y2="862.70" stroke="#333333" stroke-width="1.5"/>
<text x="119.81" y="865.40" font-size="11.50" fill="#4D4D4D" stroke="#4D4D4D" stroke-width="0.2" text-anchor="end" transform="rotate(-90 119.806 865.4)">Chuv</text>
<line x1="125.10" x2="125.10" y1="858.4" y2="862.70" stroke="#333333" stroke-width="1.5"/>
<text x="129.66" y="865.40" font-size="11.50" fill="#4D4D4D" stroke="#4D4D4D" stroke-width="0.2" text-anchor="end" transform="rotate(-90 129.656 865.4)">WBDV</text>
<line x1="134.95" x2="134.95" y1="858.4" y2="862.70" stroke="#333333" stroke-width="1.5"/>
<text x="139.51" y="865.40" font-size="11.50" fill="#4D4D4D" stroke="#4D4D4D" stroke-width="0.2" text-anchor="end" transform="rotate(-90 139.50599999999997 865.4)">Atra</text>
<rect x="148.1" y="698.5" width="69.60" height="22.10" fill="#D9D9D9" stroke="#333333" stroke-width="1.25"/>
<text x="182.90" y="714.41" font-size="11.50" fill="#1A1A1A" stroke="#1A1A1A" stroke-width="0.15" text-anchor="middle">WEEV</text>
<rect x="148.1" y="720.6" width="69.60" height="22.10" fill="#D9D9D9" stroke="#333333" stroke-width="1.25"/>
<text x="182.90" y="736.51" font-size="11.50" fill="#1A1A1A" stroke="#1A1A1A" stroke-width="0.15" text-anchor="middle">27<tspan font-size="13.57" dx="-0.3" dy="0.3">°</tspan><tspan dx="-0.3" dy="-0.3">±5</tspan><tspan font-size="13.57" dx="-0.3" dy="0.3">°</tspan><tspan dx="-0.3" dy="-0.3">C</tspan></text>
<rect x="148.1" y="742.7" width="69.60" height="115.70" fill="#fff"/>
<line x1="148.1" x2="217.7" y1="843.94" y2="843.94" stroke="#EBEBEB" stroke-width="0.5"/>
<line x1="148.1" x2="217.7" y1="815.01" y2="815.01" stroke="#EBEBEB" stroke-width="0.5"/>
<line x1="148.1" x2="217.7" y1="786.09" y2="786.09" stroke="#EBEBEB" stroke-width="0.5"/>
<line x1="148.1" x2="217.7" y1="757.16" y2="757.16" stroke="#EBEBEB" stroke-width="0.5"/>
<line x1="148.1" x2="217.7" y1="858.40" y2="858.40" stroke="#EBEBEB" stroke-width="0.7"/>
<line x1="148.1" x2="217.7" y1="829.48" y2="829.48" stroke="#EBEBEB" stroke-width="0.7"/>
<line x1="148.1" x2="217.7" y1="800.55" y2="800.55" stroke="#EBEBEB" stroke-width="0.7"/>
<line x1="148.1" x2="217.7" y1="771.62" y2="771.62" stroke="#EBEBEB" stroke-width="0.7"/>
<line x1="148.1" x2="217.7" y1="742.70" y2="742.70" stroke="#EBEBEB" stroke-width="0.7"/>
<line x1="153.35" x2="153.35" y1="742.7" y2="858.4" stroke="#EBEBEB" stroke-width="0.8"/>
<line x1="163.20" x2="163.20" y1="742.7" y2="858.4" stroke="#EBEBEB" stroke-width="0.8"/>
<line x1="173.05" x2="173.05" y1="742.7" y2="858.4" stroke="#EBEBEB" stroke-width="0.8"/>
<line x1="182.90" x2="182.90" y1="742.7" y2="858.4" stroke="#EBEBEB" stroke-width="0.8"/>
<line x1="192.75" x2="192.75" y1="742.7" y2="858.4" stroke="#EBEBEB" stroke-width="0.8"/>
<line x1="202.60" x2="202.60" y1="742.7" y2="858.4" stroke="#EBEBEB" stroke-width="0.8"/>
<line x1="212.45" x2="212.45" y1="742.7" y2="858.4" stroke="#EBEBEB" stroke-width="0.8"/>
<rect x="148.92" y="742.7" width="8.85" height="115.70" fill="#F8766D"/>
<rect x="148.92" y="825.54" width="8.85" height="32.86" fill="#00BFC4"/>
<rect x="158.77" y="742.7" width="8.85" height="115.70" fill="#F8766D"/>
<rect x="158.77" y="825.54" width="8.85" height="32.86" fill="#00BFC4"/>
<rect x="168.62" y="742.7" width="8.85" height="115.70" fill="#F8766D"/>
<rect x="168.62" y="824.27" width="8.85" height="34.13" fill="#00BFC4"/>
<rect x="178.47" y="742.7" width="8.85" height="115.70" fill="#F8766D"/>
<rect x="178.47" y="825.19" width="8.85" height="33.21" fill="#00BFC4"/>
<rect x="188.32" y="742.7" width="8.85" height="115.70" fill="#F8766D"/>
<rect x="188.32" y="821.84" width="8.85" height="36.56" fill="#00BFC4"/>
<rect x="198.17" y="742.7" width="8.85" height="115.70" fill="#F8766D"/>
<rect x="198.17" y="811.89" width="8.85" height="46.51" fill="#00BFC4"/>
<rect x="208.02" y="742.7" width="8.85" height="115.70" fill="#F8766D"/>
<rect x="148.1" y="742.7" width="69.60" height="115.70" fill="none" stroke="#333333" stroke-width="1.25"/>
<line x1="153.35" x2="153.35" y1="858.4" y2="862.70" stroke="#333333" stroke-width="1.5"/>
<text x="157.91" y="865.40" font-size="11.50" fill="#4D4D4D" stroke="#4D4D4D" stroke-width="0.2" text-anchor="end" transform="rotate(-90 157.90599999999995 865.4)">Narn</text>
<line x1="163.20" x2="163.20" y1="858.4" y2="862.70" stroke="#333333" stroke-width="1.5"/>
<text x="167.76" y="865.40" font-size="11.50" fill="#4D4D4D" stroke="#4D4D4D" stroke-width="0.2" text-anchor="end" transform="rotate(-90 167.75599999999997 865.4)">Nege</text>
<line x1="173.05" x2="173.05" y1="858.4" y2="862.70" stroke="#333333" stroke-width="1.5"/>
<text x="177.61" y="865.40" font-size="11.50" fill="#4D4D4D" stroke="#4D4D4D" stroke-width="0.2" text-anchor="end" transform="rotate(-90 177.60599999999997 865.4)">Phas</text>
<line x1="182.90" x2="182.90" y1="858.4" y2="862.70" stroke="#333333" stroke-width="1.5"/>
<text x="187.46" y="865.40" font-size="11.50" fill="#4D4D4D" stroke="#4D4D4D" stroke-width="0.2" text-anchor="end" transform="rotate(-90 187.45599999999996 865.4)">Anph</text>
<line x1="192.75" x2="192.75" y1="858.4" y2="862.70" stroke="#333333" stroke-width="1.5"/>
<text x="197.31" y="865.40" font-size="11.50" fill="#4D4D4D" stroke="#4D4D4D" stroke-width="0.2" text-anchor="end" transform="rotate(-90 197.30599999999995 865.4)">Chuv</text>
<line x1="202.60" x2="202.60" y1="858.4" y2="862.70" stroke="#333333" stroke-width="1.5"/>
<text x="207.16" y="865.40" font-size="11.50" fill="#4D4D4D" stroke="#4D4D4D" stroke-width="0.2" text-anchor="end" transform="rotate(-90 207.15599999999995 865.4)">WBDV</text>
<line x1="212.45" x2="212.45" y1="858.4" y2="862.70" stroke="#333333" stroke-width="1.5"/>
<text x="217.01" y="865.40" font-size="11.50" fill="#4D4D4D" stroke="#4D4D4D" stroke-width="0.2" text-anchor="end" transform="rotate(-90 217.00599999999997 865.4)">Atra</text>
<line x1="66.50" x2="70.5" y1="742.70" y2="742.70" stroke="#333333" stroke-width="1.5"/>
<text x="63.20" y="746.96" font-size="11.50" fill="#4D4D4D" stroke="#4D4D4D" stroke-width="0.2" text-anchor="end">1.00</text>
<line x1="66.50" x2="70.5" y1="771.62" y2="771.62" stroke="#333333" stroke-width="1.5"/>
<text x="63.20" y="775.88" font-size="11.50" fill="#4D4D4D" stroke="#4D4D4D" stroke-width="0.2" text-anchor="end">0.75</text>
<line x1="66.50" x2="70.5" y1="800.55" y2="800.55" stroke="#333333" stroke-width="1.5"/>
<text x="63.20" y="804.81" font-size="11.50" fill="#4D4D4D" stroke="#4D4D4D" stroke-width="0.2" text-anchor="end">0.50</text>
<line x1="66.50" x2="70.5" y1="829.48" y2="829.48" stroke="#333333" stroke-width="1.5"/>
<text x="63.20" y="833.73" font-size="11.50" fill="#4D4D4D" stroke="#4D4D4D" stroke-width="0.2" text-anchor="end">0.25</text>
<line x1="66.50" x2="70.5" y1="858.40" y2="858.40" stroke="#333333" stroke-width="1.5"/>
<text x="63.20" y="862.66" font-size="11.50" fill="#4D4D4D" stroke="#4D4D4D" stroke-width="0.2" text-anchor="end">0.00</text>
<text x="182.60" y="915.90" font-size="14.40" fill="#000" stroke="#000" stroke-width="0.2" text-anchor="middle">insect-specific virus</text>
<text x="34.35" y="632.50" font-size="14.40" fill="#000" stroke="#000" stroke-width="0.2" text-anchor="middle" transform="rotate(-90 34.3536 632.5)">percentage</text>
<path fill="none" stroke="#000" stroke-width="2.35" d="M 10.4 366.2 C 9.7 364.7, 8.2 363.95, 6.6 363.95 C 3.8 363.95, 2.2 366.5, 2.2 370.15 C 2.2 373.8, 3.8 376.35, 6.6 376.35 C 8.2 376.35, 9.7 375.6, 10.4 374.2"/>
<text x="318.20" y="611.80" font-size="14.40" fill="#000" stroke="#000" stroke-width="0.2" text-anchor="start">alphavirus positive saliva</text>
<rect x="318.6" y="621.6" width="20.4" height="20.5" fill="#F8766D"/>
<rect x="318.6" y="644.4" width="20.4" height="20.5" fill="#00BFC4"/>
<text x="347.50" y="635.81" font-size="11.50" fill="#000" stroke="#000" stroke-width="0.2" text-anchor="start">0</text>
<text x="347.50" y="658.61" font-size="11.50" fill="#000" stroke="#000" stroke-width="0.2" text-anchor="start">1</text>
<circle cx="156.3" cy="134.5" r="0.7" fill="#aaa"/>
<line x1="156.3" x2="156.3" y1="144" y2="183" stroke="#f3f3f3" stroke-width="1"/>
</g>
</svg>
</body></html>
